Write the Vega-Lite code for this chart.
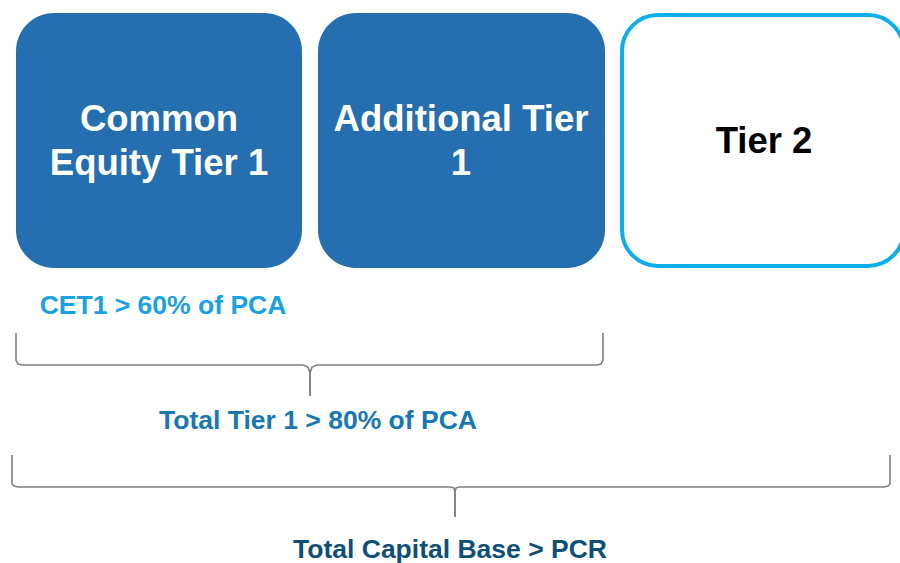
{
  "$schema": "https://vega.github.io/schema/vega-lite/v6.json",
  "width": 900,
  "height": 563,
  "autosize": {"type": "none"},
  "padding": 0,
  "background": "white",
  "config": {"view": {"stroke": null}},
  "layer": [
    {
      "data": {"values": [
        {"tier": "CET1", "x0": 16, "x1": 302, "y0": 13, "y1": 268},
        {"tier": "AT1", "x0": 318, "x1": 605, "y0": 13, "y1": 268}
      ]},
      "mark": {"type": "rect", "cornerRadius": 38, "color": "#256FB1"},
      "encoding": {
        "x": {"field": "x0", "type": "quantitative", "scale": {"domain": [0, 900], "nice": false, "zero": false}, "axis": null},
        "x2": {"field": "x1"},
        "y": {"field": "y0", "type": "quantitative", "scale": {"domain": [0, 563], "reverse": true, "nice": false, "zero": false}, "axis": null},
        "y2": {"field": "y1"}
      }
    },
    {
      "data": {"values": [
        {"tier": "Tier 2", "x0": 622, "x1": 904, "y0": 15, "y1": 266}
      ]},
      "mark": {"type": "rect", "cornerRadius": 36, "fill": "white", "stroke": "#0DAFEB", "strokeWidth": 4},
      "encoding": {
        "x": {"field": "x0", "type": "quantitative"},
        "x2": {"field": "x1"},
        "y": {"field": "y0", "type": "quantitative"},
        "y2": {"field": "y1"}
      }
    },
    {
      "data": {"values": [
        {"b": "b1", "seg": "L", "o": 1, "x": 16, "y": 333},
        {"b": "b1", "seg": "L", "o": 2, "x": 16, "y": 360},
        {"b": "b1", "seg": "L", "o": 3, "x": 18, "y": 364},
        {"b": "b1", "seg": "L", "o": 4, "x": 22, "y": 365},
        {"b": "b1", "seg": "L", "o": 5, "x": 303, "y": 365},
        {"b": "b1", "seg": "L", "o": 6, "x": 308, "y": 367},
        {"b": "b1", "seg": "L", "o": 7, "x": 310, "y": 373},
        {"b": "b1", "seg": "L", "o": 8, "x": 310, "y": 396},
        {"b": "b1", "seg": "R", "o": 1, "x": 603, "y": 333},
        {"b": "b1", "seg": "R", "o": 2, "x": 603, "y": 360},
        {"b": "b1", "seg": "R", "o": 3, "x": 601, "y": 364},
        {"b": "b1", "seg": "R", "o": 4, "x": 597, "y": 365},
        {"b": "b1", "seg": "R", "o": 5, "x": 317, "y": 365},
        {"b": "b1", "seg": "R", "o": 6, "x": 312, "y": 367},
        {"b": "b1", "seg": "R", "o": 7, "x": 310, "y": 373},
        {"b": "b1", "seg": "R", "o": 8, "x": 310, "y": 396},
        {"b": "b2", "seg": "L", "o": 1, "x": 12, "y": 455},
        {"b": "b2", "seg": "L", "o": 2, "x": 12, "y": 484},
        {"b": "b2", "seg": "L", "o": 3, "x": 14, "y": 486},
        {"b": "b2", "seg": "L", "o": 4, "x": 18, "y": 487},
        {"b": "b2", "seg": "L", "o": 5, "x": 451, "y": 487},
        {"b": "b2", "seg": "L", "o": 6, "x": 454, "y": 488},
        {"b": "b2", "seg": "L", "o": 7, "x": 455, "y": 492},
        {"b": "b2", "seg": "L", "o": 8, "x": 455, "y": 517},
        {"b": "b2", "seg": "R", "o": 1, "x": 890, "y": 455},
        {"b": "b2", "seg": "R", "o": 2, "x": 890, "y": 484},
        {"b": "b2", "seg": "R", "o": 3, "x": 888, "y": 486},
        {"b": "b2", "seg": "R", "o": 4, "x": 884, "y": 487},
        {"b": "b2", "seg": "R", "o": 5, "x": 459, "y": 487},
        {"b": "b2", "seg": "R", "o": 6, "x": 456, "y": 488},
        {"b": "b2", "seg": "R", "o": 7, "x": 455, "y": 492},
        {"b": "b2", "seg": "R", "o": 8, "x": 455, "y": 517}
      ]},
      "mark": {"type": "line", "color": "#808080", "strokeWidth": 1.6, "interpolate": "linear"},
      "encoding": {
        "x": {"field": "x", "type": "quantitative"},
        "y": {"field": "y", "type": "quantitative"},
        "detail": [{"field": "b"}, {"field": "seg"}],
        "order": {"field": "o", "type": "quantitative"}
      }
    },
    {
      "data": {"values": [
        {"label": "Common\nEquity Tier 1", "role": "box", "x": 159, "y": 120},
        {"label": "Additional Tier\n1", "role": "box", "x": 461, "y": 120},
        {"label": "Tier 2", "role": "tier2", "x": 764, "y": 142}
      ]},
      "mark": {"type": "text", "font": "Liberation Sans", "fontWeight": "bold", "fontSize": 36.5, "lineBreak": "\n", "lineHeight": 44, "align": "center", "baseline": "middle"},
      "encoding": {
        "x": {"field": "x", "type": "quantitative"},
        "y": {"field": "y", "type": "quantitative"},
        "text": {"field": "label"},
        "color": {"field": "role", "type": "nominal", "scale": {"domain": ["box", "tier2"], "range": ["#FFFFFF", "#000000"]}, "legend": null}
      }
    },
    {
      "data": {"values": [
        {"label": "CET1 > 60% of PCA", "role": "cet1", "x": 163, "y": 306},
        {"label": "Total Tier 1 > 80% of PCA", "role": "t1", "x": 318, "y": 421},
        {"label": "Total Capital Base > PCR", "role": "tcb", "x": 450, "y": 550}
      ]},
      "mark": {"type": "text", "font": "Liberation Sans", "fontWeight": "bold", "fontSize": 26.5, "align": "center", "baseline": "middle"},
      "encoding": {
        "x": {"field": "x", "type": "quantitative"},
        "y": {"field": "y", "type": "quantitative"},
        "text": {"field": "label"},
        "color": {"field": "role", "type": "nominal", "scale": {"domain": ["cet1", "t1", "tcb"], "range": ["#1BA0E2", "#1878B2", "#0E4F78"]}, "legend": null}
      }
    }
  ],
  "resolve": {"scale": {"color": "independent"}}
}
